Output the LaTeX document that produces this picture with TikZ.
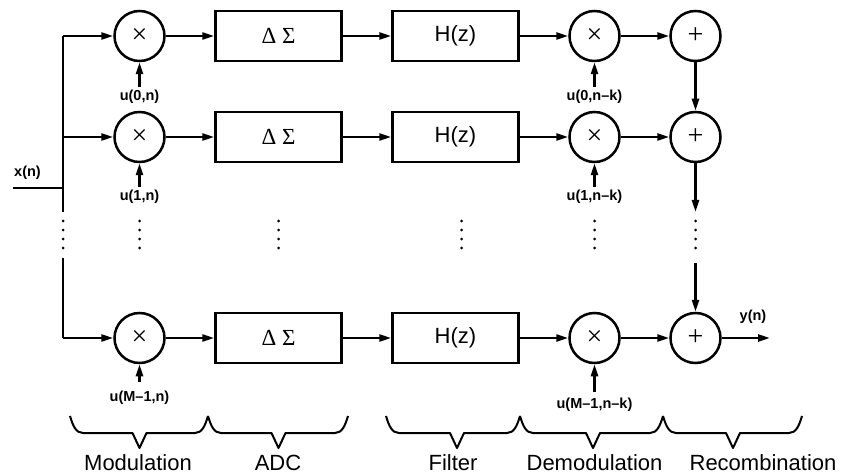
\documentclass[tikz,border=0pt]{standalone}
\usepackage{fontspec}
\setmainfont{Liberation Sans}
\newfontfamily\seriffont{Liberation Serif}
\usetikzlibrary{arrows.meta}
\begin{document}
\begin{tikzpicture}[x=1pt,y=-1pt,
  every node/.style={inner sep=1pt},
  wire/.style={line width=2.5pt},
  arr/.style={wire,-{Triangle[length=12pt,width=7pt]}},
  opnode/.style={circle,draw,line width=2.5pt,minimum size=50pt,inner sep=0pt,font=\seriffont\fontsize{28}{28}\selectfont},
  blk/.style={rectangle,draw,line width=2.5pt,minimum width=126pt,minimum height=50pt,inner sep=0pt},
  sig/.style={font=\bfseries\fontsize{14.5}{16}\selectfont},
  stage/.style={font=\fontsize{22}{24}\selectfont},
  vdots/.style={line width=3pt,line cap=round,dash pattern=on 0pt off 9pt},
  brc/.style={line width=2pt,line join=round}]
\useasboundingbox (0,0) rectangle (844,476);

% rows: 36, 137, 338
\foreach \r/\y in {0/36,1/137,2/338}{
  \node[opnode] (m\r) at (139.5,\y) {×};
  \node[blk,font=\seriffont\fontsize{23}{24}\selectfont] (a\r) at (278.5,\y) {Δ Σ};
  \node[blk,font=\fontsize{22}{24}\selectfont] (h\r) at (455.5,\y) {H(z)};
  \node[opnode] (d\r) at (594.5,\y) {×};
  \node[opnode,font=\seriffont\fontsize{28}{28}\selectfont] (p\r) at (695.5,\y) {+};
  \draw[arr] (m\r) -- (a\r);
  \draw[arr] (a\r) -- (h\r);
  \draw[arr] (h\r) -- (d\r);
  \draw[arr] (d\r) -- (p\r);
}

% modulation signals
\node[sig] (um0) at (139.5,97) {u(0,n)};
\node[sig] (um1) at (139.5,197) {u(1,n)};
\node[sig] (um2) at (139.5,398) {u(M–1,n)};
\node[sig] (ud0) at (594.5,97) {u(0,n–k)};
\node[sig] (ud1) at (594.5,197) {u(1,n–k)};
\node[sig] (ud2) at (594.5,405) {u(M–1,n–k)};
\draw[arr,shorten <=2pt] (um0) -- (m0);
\draw[arr,shorten <=2pt] (um1) -- (m1);
\draw[arr,shorten <=8pt] (um2) -- (m2);
\draw[arr,shorten <=2pt] (ud0) -- (d0);
\draw[arr,shorten <=2pt] (ud1) -- (d1);
\draw[arr,shorten <=5pt] (ud2) -- (d2);

% input bus
\coordinate (bt) at (63,36);
\coordinate (b1) at (63,137);
\coordinate (be) at (63,212);
\coordinate (bs) at (63,258);
\coordinate (bb) at (63,338);
\coordinate (xin) at (13,188);
\coordinate (xj) at (63,188);
\draw[wire] (bt) -- (be);
\draw[wire] (bs) -- (bb);
\draw[wire] (xin) -- (xj);
\draw[arr] (bt) -- (m0);
\draw[arr] (b1) -- (m1);
\draw[arr] (bb) -- (m2);
\node[sig] (xn) at (27.5,173) {x(n)};

% recombination chain
\coordinate (pe) at (695.5,212);
\coordinate (ps) at (695.5,263);
\coordinate (yo) at (770,338);
\draw[arr] (p0) -- (p1);
\draw[arr] (p1) -- (pe);
\draw[arr] (ps) -- (p2);
\draw[arr] (p2) -- (yo);
\node[sig] (yn) at (753,317) {y(n)};

% vertical dots
\foreach \x in {63,139.5,278.5,461.5,594.5,695.5}{
  \draw[vdots] (\x,221) -- (\x,250);
}

% braces
\foreach \a/\b/\t in {70/208/139.5,208/348/278.5,386/520/457,520/663/593,663/802/733}{
  \draw[brc] (\a,416) .. controls (\a+3,426) and (\a+6,433) .. (\a+13,433)
     -- (\t-7,433) -- (\t,448) -- (\t+7,433) -- (\b-13,433)
     .. controls (\b-6,433) and (\b-3,426) .. (\b,416);
}
\node[stage] (l1) at (138,463) {Modulation};
\node[stage] (l2) at (278,463) {ADC};
\node[stage] (l3) at (453,463) {Filter};
\node[stage] (l4) at (594.5,463) {Demodulation};
\node[stage] (l5) at (763,463) {Recombination};
\end{tikzpicture}
\end{document}
